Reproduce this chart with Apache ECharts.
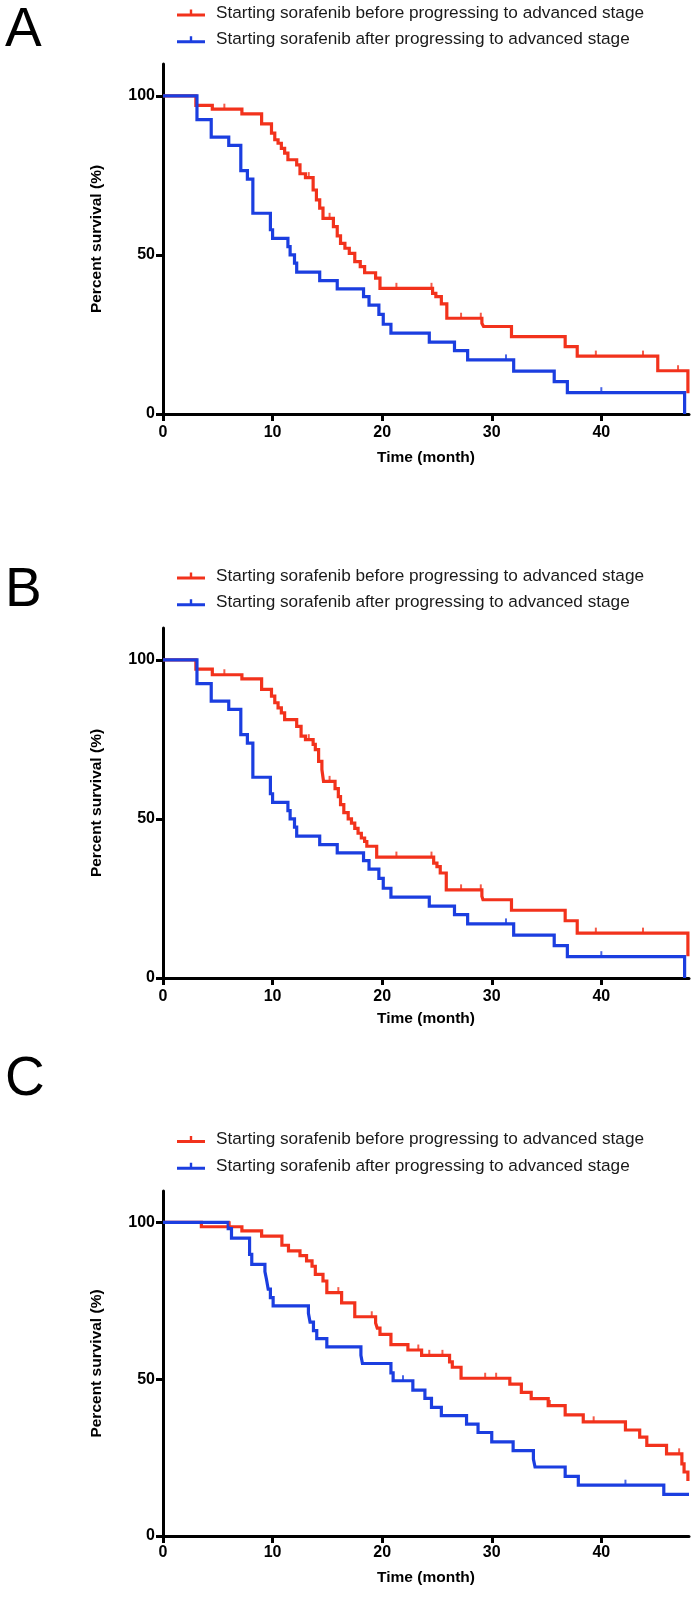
<!DOCTYPE html>
<html><head><meta charset="utf-8">
<script src="https://cdn.jsdelivr.net/npm/echarts@6/dist/echarts.min.js"></script>
<style>html,body{margin:0;padding:0;background:#fff}#c{width:694px;height:1598px}</style>
</head><body><div id="c"></div>
<script>
// ---------- DATA ----------
const RED_NAME = 'Starting sorafenib before progressing to advanced stage';
const BLUE_NAME = 'Starting sorafenib after progressing to advanced stage';
const panelLabels = ['A', 'B', 'C'];
const xTicks = [0, 10, 20, 30, 40];
const yTicks = [0, 50, 100];
const xTitle = 'Time (month)';
const yTitle = 'Percent survival (%)';

// Kaplan-Meier change points [month, survival %]
const redA = [[0,100],[3.0,97.0],[4.5,95.8],[7.2,94.3],[9.0,91.2],[9.9,88.3],[10.2,86.2],[10.5,85.1],[10.8,83.5],[11.1,82.0],[11.4,79.9],[12.2,78.3],[12.5,75.5],[13.0,74.3],[13.7,70.4],[14.0,67.3],[14.3,64.7],[14.6,61.5],[15.55,58.9],[15.9,56.0],[16.2,53.6],[16.6,52.1],[17.0,50.5],[17.5,47.9],[18.0,46.3],[18.4,44.4],[19.4,42.7],[19.8,39.5],[24.6,37.9],[24.9,36.9],[25.4,34.6],[25.9,30.1],[29.1,28.5],[29.25,27.5],[31.8,24.3],[36.7,21.2],[37.8,18.2],[45.15,13.6],[47.9,6.5]];
const redACensored = [[5.6,95.8],[13.3,74.3],[15.2,61.5],[21.3,39.5],[24.5,39.5],[27.2,30.1],[29.0,30.1],[39.5,18.2],[43.8,18.2],[47.0,13.6]];
const blueA = [[0,100],[3.1,92.5],[4.4,87.0],[6.0,84.4],[7.1,76.5],[7.7,73.8],[8.2,63.1],[9.8,57.9],[10.0,55.2],[11.4,52.6],[11.6,50.0],[12.0,47.4],[12.2,44.6],[14.3,41.9],[15.9,39.3],[18.3,36.9],[18.8,34.2],[19.7,31.3],[20.1,28.2],[20.8,25.4],[24.3,22.6],[26.6,19.9],[27.8,17.0],[32.0,13.5],[35.7,10.2],[36.9,6.7],[47.6,0]];
const blueACensored = [[31.3,17.0],[40.0,6.7]];

const redB = [[0,100],[3.0,97.1],[4.5,95.3],[7.2,94.0],[9.0,90.7],[9.9,88.6],[10.2,86.5],[10.5,84.9],[10.8,83.3],[11.1,81.2],[12.2,79.1],[12.6,76.0],[13.0,74.9],[13.7,73.4],[13.9,71.8],[14.2,68.1],[14.5,65.5],[14.65,61.8],[15.7,59.5],[16.0,57.0],[16.2,54.5],[16.5,52.0],[16.9,50.0],[17.2,48.7],[17.5,47.0],[17.8,45.5],[18.1,44.0],[18.4,42.9],[18.6,41.4],[19.5,38.0],[24.7,36.1],[25.0,35.0],[25.3,33.0],[25.85,27.7],[29.1,25.7],[29.2,24.6],[31.8,21.3],[36.7,18.0],[37.8,14.1],[47.9,6.8]];
const redBCensored = [[5.6,95.3],[13.3,74.9],[15.2,61.8],[21.3,38.0],[24.5,38.0],[27.2,27.7],[29.0,27.7],[39.5,14.1],[43.8,14.1]];
const blueB = [[0,100],[3.1,92.5],[4.4,87.0],[6.0,84.4],[7.1,76.5],[7.7,73.8],[8.2,63.1],[9.8,57.9],[10.0,55.2],[11.4,52.6],[11.6,50.0],[12.0,47.4],[12.2,44.6],[14.3,41.9],[15.9,39.3],[18.3,36.9],[18.8,34.2],[19.7,31.3],[20.1,28.2],[20.8,25.4],[24.3,22.6],[26.6,19.9],[27.8,17.0],[32.0,13.5],[35.7,10.2],[36.9,6.7],[47.6,0]];
const blueBCensored = [[31.3,17.0],[40.0,6.7]];

const redC = [[0,100],[3.5,98.6],[7.2,97.3],[9.0,95.6],[10.85,92.7],[11.45,90.9],[12.5,89.4],[13.1,87.7],[13.6,86.0],[13.9,83.4],[14.6,81.3],[14.95,77.6],[16.3,74.3],[17.5,69.9],[19.4,67.9],[19.55,66.3],[19.8,64.3],[20.8,61.0],[22.35,59.3],[23.6,57.6],[26.15,55.5],[26.4,53.8],[27.2,50.3],[31.65,48.4],[32.7,45.8],[33.6,43.8],[35.15,41.6],[36.7,38.6],[38.35,36.4],[42.2,33.8],[43.5,31.5],[44.15,28.9],[45.95,26.2],[47.35,23.0],[47.55,20.4],[47.9,17.5]];
const redCCensored = [[6.1,98.6],[16.0,77.6],[19.05,69.9],[23.3,59.3],[24.3,57.6],[25.5,57.6],[29.4,50.3],[30.4,50.3],[35.3,41.6],[39.3,36.4],[47.1,26.2]];
const blueC = [[0,100],[5.95,98.0],[6.25,95.0],[7.9,89.8],[8.1,86.6],[9.3,84.3],[9.45,81.7],[9.6,78.7],[9.8,76.0],[10.05,73.4],[13.27,71.0],[13.42,68.2],[13.73,65.5],[14.03,62.9],[14.95,60.3],[18.06,57.6],[18.2,55.0],[20.8,52.0],[21.0,49.5],[22.8,46.5],[23.9,43.9],[24.5,41.0],[25.4,38.4],[27.7,35.7],[28.75,33.0],[30.0,30.0],[31.95,27.2],[33.8,24.5],[33.95,22.0],[36.7,19.0],[37.9,16.2],[45.7,13.3],[48,13.3]];
const blueCCensored = [[21.9,49.5],[42.2,16.2]];

// ---------- STYLE / LAYOUT ----------
const FONT = '"Liberation Sans", Arial, Helvetica, sans-serif';
const RED = '#f2321c';
const BLUE = '#1b3ee0';
const panels = [
  { red: redA, redC: redACensored, blue: blueA, blueC: blueACensored,
    grid: {left:163, top:64, width:526, height:350}, legendTop: 4.5, labelTop: -2, xLabelMargin: 11, xNameGap: 36 },
  { red: redB, redC: redBCensored, blue: blueB, blueC: blueBCensored,
    grid: {left:163, top:628, width:526, height:350}, legendTop: 567.5, labelTop: 558, xLabelMargin: 11, xNameGap: 33 },
  { red: redC, redC: redCCensored, blue: blueC, blueC: blueCCensored,
    grid: {left:163, top:1191, width:526, height:345}, legendTop: 1131, labelTop: 1047, xLabelMargin: 9, xNameGap: 34 }
];

const tickLabelStyle = { color:'#000', fontSize:16, fontWeight:'bold', fontFamily:FONT };
const nameStyle = { color:'#000', fontSize:15.5, fontWeight:'bold', fontFamily:FONT };
const axisLineStyle = { color:'#000', width:3 };
const iconPath = 'path://M0,5h28v3h-28z M12.8,1h2.4v4h-2.4z';

const option = {
  animation: false,
  backgroundColor: '#fff',
  title: panels.map((p, i) => ({
    text: panelLabels[i], left: 0, top: p.labelTop, padding: 5,
    textStyle: { fontSize: 55, fontWeight: 'normal', color: '#000', fontFamily: FONT }
  })),
  legend: panels.map(p => ({
    orient: 'vertical', left: 177, top: p.legendTop, padding: 0,
    itemWidth: 28, itemHeight: 7, itemGap: 9.7,
    selectedMode: false,
    textStyle: { fontSize: 17.2, color: '#1a1a1a', fontFamily: FONT, lineHeight: 17, padding: [0,0,0,6] },
    itemStyle: { borderWidth: 0 },
    data: [ { name: RED_NAME, icon: iconPath }, { name: BLUE_NAME, icon: iconPath } ]
  })),
  grid: panels.map(p => p.grid),
  xAxis: panels.map((p, i) => ({
    type: 'value', gridIndex: i, min: 0, max: 48,
    axisLine: { show: true, onZero: false, lineStyle: axisLineStyle },
    axisTick: { show: true, length: 7, lineStyle: axisLineStyle, customValues: xTicks },
    axisLabel: Object.assign({ customValues: xTicks, margin: p.xLabelMargin }, tickLabelStyle),
    splitLine: { show: false },
    name: xTitle, nameLocation: 'middle', nameGap: p.xNameGap, nameTextStyle: nameStyle
  })),
  yAxis: panels.map((p, i) => ({
    type: 'value', gridIndex: i, min: 0, max: 110,
    axisLine: { show: true, onZero: false, lineStyle: axisLineStyle },
    axisTick: { show: true, length: 7, lineStyle: axisLineStyle, customValues: yTicks },
    axisLabel: Object.assign({ customValues: yTicks, margin: 8 }, tickLabelStyle),
    splitLine: { show: false },
    name: yTitle, nameLocation: 'middle', nameGap: 58, nameTextStyle: nameStyle
  })),
  series: []
};

panels.forEach((p, i) => {
  [[RED_NAME, RED, p.red, p.redC], [BLUE_NAME, BLUE, p.blue, p.blueC]].forEach(([name, color, curve, cens]) => {
    option.series.push({
      name, type: 'line', xAxisIndex: i, yAxisIndex: i, step: 'end',
      data: curve, showSymbol: false, symbol: 'none', color,
      lineStyle: { color, width: 3.2, join: 'miter', cap: 'butt' }, z: 3
    });
    option.series.push({
      name: name + ' (censored)', type: 'scatter', xAxisIndex: i, yAxisIndex: i,
      data: cens, symbol: 'rect', symbolSize: [2, 5], symbolOffset: [0, -3],
      itemStyle: { color }, z: 3, silent: true
    });
  });
});

const chart = echarts.init(document.getElementById('c'), null, { renderer: 'canvas' });
chart.setOption(option);
</script>
</body></html>
